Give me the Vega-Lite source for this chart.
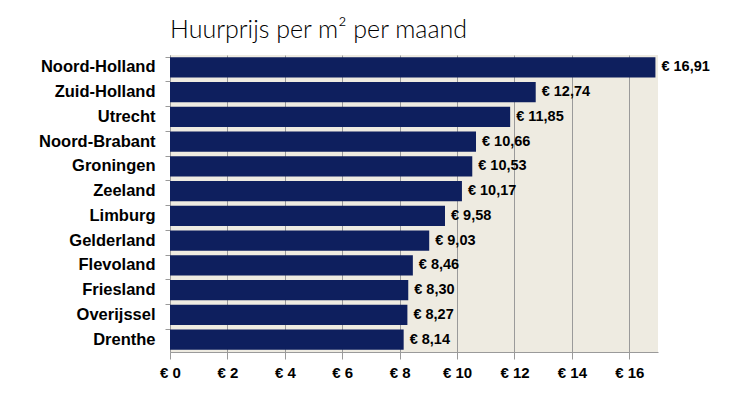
{
  "$schema": "https://vega.github.io/schema/vega-lite/v6.json",
  "width": 488,
  "height": 297,
  "autosize": {"type": "none"},
  "padding": {"left": 170, "top": 55, "right": 82, "bottom": 45},
  "background": "white",
  "config": {
    "locale": {"number": {"decimal": ",", "thousands": ".", "grouping": [3], "currency": ["€ ", ""]}},
    "view": {"fill": "#EEEBE1", "stroke": null},
    "font": "Liberation Sans"
  },
  "title": {
    "text": "Huurprijs per m² per maand",
    "anchor": "start",
    "frame": "group",
    "font": "Lato",
    "fontWeight": 300,
    "fontSize": 25,
    "color": "#000000",
    "offset": 12,
    "dx": 0
  },
  "data": {
    "values": [
      {"provincie": "Noord-Holland", "prijs": 16.91},
      {"provincie": "Zuid-Holland", "prijs": 12.74},
      {"provincie": "Utrecht", "prijs": 11.85},
      {"provincie": "Noord-Brabant", "prijs": 10.66},
      {"provincie": "Groningen", "prijs": 10.53},
      {"provincie": "Zeeland", "prijs": 10.17},
      {"provincie": "Limburg", "prijs": 9.58},
      {"provincie": "Gelderland", "prijs": 9.03},
      {"provincie": "Flevoland", "prijs": 8.46},
      {"provincie": "Friesland", "prijs": 8.30},
      {"provincie": "Overijssel", "prijs": 8.27},
      {"provincie": "Drenthe", "prijs": 8.14}
    ]
  },
  "encoding": {
    "y": {
      "field": "provincie",
      "type": "nominal",
      "sort": null,
      "title": null,
      "scale": {"paddingInner": 0.18, "paddingOuter": 0.09},
      "axis": {
        "labelFont": "Liberation Sans",
        "labelFontWeight": "bold",
        "labelFontSize": 16.5,
        "labelColor": "#000000",
        "labelPadding": 10,
        "domainColor": "#9a9a9a",
        "tickColor": "#9a9a9a",
        "tickSize": 5,
        "bandPosition": 0
      }
    },
    "x": {
      "field": "prijs",
      "type": "quantitative",
      "title": null,
      "scale": {"domain": [0, 17], "nice": false},
      "axis": {
        "values": [0, 2, 4, 6, 8, 10, 12, 14, 16],
        "format": "$.0f",
        "labelFont": "Liberation Sans",
        "labelFontWeight": "bold",
        "labelFontSize": 15,
        "labelColor": "#000000",
        "labelPadding": 6,
        "domainColor": "#9a9a9a",
        "tickColor": "#9a9a9a",
        "tickSize": 7,
        "grid": true,
        "gridColor": "#9a9a9a",
        "gridWidth": 1,
        "labelFlush": false
      }
    }
  },
  "layer": [
    {
      "mark": {"type": "bar", "color": "#0E1F5E"}
    },
    {
      "mark": {"type": "text", "align": "left", "baseline": "middle", "dx": 6, "font": "Liberation Sans", "fontWeight": "bold", "fontSize": 14.5, "color": "#000000"},
      "encoding": {
        "text": {"field": "prijs", "type": "quantitative", "format": "$.2f"}
      }
    }
  ]
}
